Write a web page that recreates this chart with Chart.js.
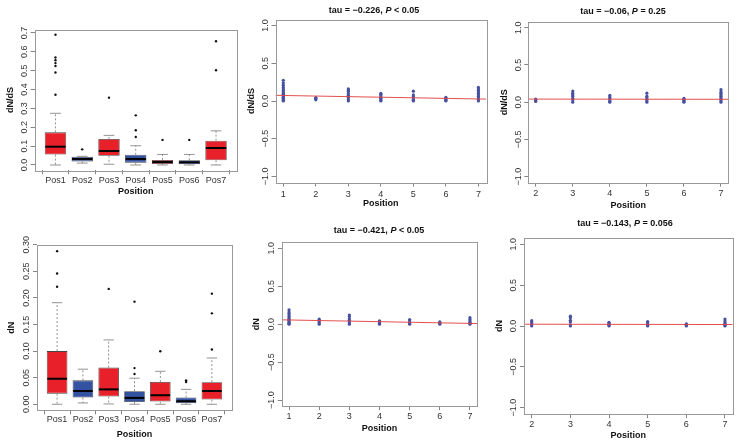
<!DOCTYPE html>
<html><head><meta charset="utf-8">
<script src="https://cdn.jsdelivr.net/npm/chart.js@4"></script>
<style>
html,body{margin:0;padding:0;background:#fff;}
#wrap{position:relative;width:740px;height:446px;overflow:hidden;}
canvas.c{position:absolute;left:0;top:0;}
.ttl{position:absolute;font:bold 9px "Liberation Sans",Arial,sans-serif;white-space:nowrap;transform:translate(-50%,-50%);color:#111;}
</style></head><body>
<div id="wrap">
<canvas id="c1" class="c" width="740" height="446"></canvas>
<canvas id="c2" class="c" width="740" height="446"></canvas>
<canvas id="c3" class="c" width="740" height="446"></canvas>
<canvas id="c4" class="c" width="740" height="446"></canvas>
<canvas id="c5" class="c" width="740" height="446"></canvas>
<canvas id="c6" class="c" width="740" height="446"></canvas>
<div class="ttl" style="left:374px;top:10px">tau = −0.226, <i>P</i> &lt; 0.05</div>
<div class="ttl" style="left:623px;top:11px">tau = −0.06, <i>P</i> = 0.25</div>
<div class="ttl" style="left:379px;top:230px">tau = −0.421, <i>P</i> &lt; 0.05</div>
<div class="ttl" style="left:625px;top:223px">tau = −0.143, <i>P</i> = 0.056</div>
</div>
<script>
// ---------------- DATA ----------------
const posNames = ['Pos1','Pos2','Pos3','Pos4','Pos5','Pos6','Pos7'];
const boxPositions = [1,2,3,4,5,6,7];

// dN/dS boxplot (top-left)
const dndsLow  = [0, 0.010, 0.004, 0, 0, 0, 0];
const dndsQ1   = [0.055, 0.019, 0.049, 0.0125, 0.005, 0.004, 0.025];
const dndsMed  = [0.097, 0.032, 0.074, 0.032, 0.016, 0.014, 0.090];
const dndsQ3   = [0.173, 0.044, 0.138, 0.054, 0.027, 0.025, 0.129];
const dndsHigh = [0.274, 0.046, 0.157, 0.102, 0.056, 0.056, 0.181];
const dndsOut  = [[0.69,0.57,0.555,0.54,0.525,0.49,0.372],[0.083],[0.357],[0.148,0.184,0.263],[0.133],[0.133],[0.502,0.656]];

// dN boxplot (bottom-left)
const dnLow  = [0, 0.0025, 0.0006, 0, 0, 0, 0];
const dnQ1   = [0.020, 0.0126, 0.0145, 0.0044, 0.005, 0.002, 0.0088];
const dnMed  = [0.048, 0.025, 0.028, 0.012, 0.017, 0.0057, 0.025];
const dnQ3   = [0.100, 0.045, 0.069, 0.0246, 0.042, 0.0126, 0.0416];
const dnHigh = [0.191, 0.066, 0.121, 0.049, 0.062, 0.028, 0.087];
const dnOut  = [[0.221,0.246,0.288],[],[0.217],[0.057,0.068,0.193],[0.0996],[0.042,0.045],[0.103,0.171,0.208]];

// scatter panels
const allPositions = [1,2,3,4,5,6,7];
const subPositions = [2,3,4,5,6,7];
const dndsAllValues = [
  [0,0.01,0.02,0.035,0.05,0.06,0.075,0.09,0.1,0.12,0.14,0.16,0.18,0.21,0.24,0.275],
  [0.015,0.025,0.035,0.045],
  [0,0.02,0.045,0.06,0.075,0.1,0.13,0.145,0.16],
  [0,0.01,0.025,0.035,0.05,0.07,0.09,0.1],
  [0,0.01,0.02,0.04,0.055,0.08,0.13],
  [0,0.01,0.02,0.035,0.05],
  [0,0.02,0.04,0.06,0.08,0.1,0.12,0.14,0.16,0.18]
];
const dndsSubValues = [
  [0.01,0.02,0.04],
  [0,0.03,0.05,0.08,0.1,0.12,0.15],
  [0,0.01,0.03,0.05,0.07,0.09],
  [0,0.02,0.04,0.06,0.08,0.12],
  [0,0.01,0.025,0.04,0.05],
  [0,0.02,0.04,0.06,0.08,0.1,0.12,0.14,0.17]
];
const dnAllValues = [
  [0,0.01,0.02,0.035,0.05,0.065,0.08,0.1,0.12,0.14,0.16,0.19],
  [0,0.015,0.03,0.045,0.065],
  [0,0.015,0.03,0.05,0.07,0.1,0.12],
  [0,0.01,0.02,0.035,0.045],
  [0,0.01,0.02,0.04,0.06],
  [0,0.01,0.02,0.03],
  [0,0.01,0.025,0.04,0.06,0.085]
];
const dnSubValues = [
  [0,0.015,0.03,0.05,0.065],
  [0,0.015,0.05,0.07,0.1,0.12],
  [0,0.01,0.02,0.035,0.045],
  [0,0.01,0.025,0.04,0.055],
  [0,0.01,0.02,0.025],
  [0,0.01,0.025,0.04,0.06,0.085]
];
// regression lines [intercept, slope]
const fitDndsAll = [0.0809, -0.0077];
const fitDndsSub = [0.042, -0.0005];
const fitDnAll   = [0.0627, -0.00756];
const fitDnSub   = [0.0233, -0.00074];

// tick labels
const dndsTicks = [0,0.1,0.2,0.3,0.4,0.5,0.6,0.7];
const dnTicks = [0,0.05,0.10,0.15,0.20,0.25,0.30];
const scatYTicks = [-1,-0.5,0,0.5,1];
const scatYLabels = ['−1.0','−0.5','0.0','0.5','1.0'];

// ---------------- STYLE / LAYOUT ----------------
const FONT = '"Liberation Sans", Arial, sans-serif';
Chart.defaults.font.family = FONT;
Chart.defaults.color = '#222';
const LH = 10.8;
const RED = 'rgb(232,32,42)', BLUE = 'rgb(52,82,162)';
const boxColors = boxPositions.map((p,i)=> i%2===0 ? RED : BLUE);
const extras = {};

const geoms = {
  c1:{L:34.6,T:29.6,R:236.9,B:170.2,ytc:11,xlc:181,xtc:192},
  c2:{L:37,T:245,R:232,B:410.4,ytc:12,xlc:419,xtc:435},
  c3:{L:275.5,T:19.5,R:486.2,B:182.5,ytc:252,xlc:194.3,xtc:204},
  c4:{L:528.3,T:21.7,R:728.4,B:182.6,ytc:505,xlc:193.3,xtc:206},
  c5:{L:281.8,T:242.2,R:477.2,B:406.1,ytc:257,xlc:416.7,xtc:428.3},
  c6:{L:524,T:237.8,R:732.7,B:414.2,ytc:500,xlc:425,xtc:435.7}
};

function rpad(a,b){ const d=(b-a)*0.04; return [a-d,b+d]; }

function baseOptions(id, xr, xticks, xlabels, xtitle, yr, yticks, ytitle){
  const g = geoms[id];
  return {
    responsive:false, animation:false, devicePixelRatio:1,
    layout:{padding:{left:g.ytc-LH/2, top:g.T, right:740-g.R, bottom:446-(g.xtc+LH/2)}},
    plugins:{legend:{display:false}, tooltip:{enabled:false}},
    scales:{
      x:{type:'linear', min:xr[0], max:xr[1], bounds:'data', offset:false,
        afterBuildTicks:s=>{ s.ticks = xticks.map(v=>({value:v})); },
        afterFit:s=>{ s.height = g.xtc + LH/2 - g.B; },
        ticks:{autoSkip:false, maxRotation:0, minRotation:0, padding:Math.max(0,g.xlc-g.B-9.4),
          font:{size:9}, color:'#333', callback:(v,i)=>xlabels[i]},
        grid:{drawOnChartArea:false, drawTicks:true, tickLength:4, color:'#666', lineWidth:0.8},
        border:{display:false},
        title:{display:true, text:xtitle, font:{size:9, weight:'bold'}, padding:0, color:'#111'}
      },
      y:{type:'linear', min:yr[0], max:yr[1], bounds:'data',
        afterBuildTicks:s=>{ s.ticks = yticks.map(v=>({value:v})); },
        afterFit:s=>{ s.width = g.L - (g.ytc - LH/2); },
        ticks:{display:false},
        grid:{drawOnChartArea:false, drawTicks:true, tickLength:4, color:'#666', lineWidth:0.8},
        border:{display:false},
        title:{display:true, text:ytitle, font:{size:9, weight:'bold'}, padding:0, color:'#111'}
      }
    }
  };
}

function line(ctx,x1,y1,x2,y2){ ctx.beginPath(); ctx.moveTo(x1,y1); ctx.lineTo(x2,y2); ctx.stroke(); }

const rPlugin = {
  id:'rStyle',
  afterDatasetsDraw(chart){
    const e = extras[chart.canvas.id]; if(!e || !e.box) return;
    const ctx = chart.ctx, xs = chart.scales.x, ys = chart.scales.y;
    const meta = chart.getDatasetMeta(0);
    const b = e.box;
    ctx.save();
    b.pos.forEach((p,i)=>{
      const el = meta.data[i];
      const half = el.getProps(['width'],true).width/2;
      const x = xs.getPixelForValue(p);
      const yl = ys.getPixelForValue(b.low[i]), y1 = ys.getPixelForValue(b.q1[i]);
      const ym = ys.getPixelForValue(b.med[i]), y3 = ys.getPixelForValue(b.q3[i]);
      const yh = ys.getPixelForValue(b.high[i]);
      ctx.strokeStyle='#777'; ctx.lineWidth=0.8; ctx.setLineDash([2,2]);
      line(ctx,x,y3,x,yh); line(ctx,x,y1,x,yl);
      ctx.setLineDash([]);
      line(ctx,x-half/2,yh,x+half/2,yh); line(ctx,x-half/2,yl,x+half/2,yl);
      ctx.strokeStyle='#000'; ctx.lineWidth=2;
      line(ctx,x-half+0.5,ym,x+half-0.5,ym);
    });
    ctx.restore();
  },
  afterDraw(chart){
    const e = extras[chart.canvas.id]; if(!e) return;
    const ctx = chart.ctx, ys = chart.scales.y, a = chart.chartArea;
    ctx.save();
    ctx.strokeStyle='#999'; ctx.lineWidth=1;
    ctx.strokeRect(Math.round(a.left)+0.5, Math.round(a.top)+0.5, Math.round(a.right-a.left), Math.round(a.bottom-a.top));
    ctx.font='9px '+FONT; ctx.fillStyle='#333'; ctx.textAlign='center'; ctx.textBaseline='middle';
    e.yticks.forEach((v,i)=>{
      ctx.save(); ctx.translate(a.left-10, ys.getPixelForValue(v)); ctx.rotate(-Math.PI/2);
      ctx.fillText(e.ylabels[i],0,0); ctx.restore();
    });
    ctx.restore();
  }
};
Chart.register(rPlugin);

function boxChart(id, low, q1, med, q3, high, outs, yticks, ylabels, ytitle){
  const allVals = high.concat(...outs, low);
  const yr = rpad(Math.min(...allVals), Math.max(...allVals));
  extras[id] = {yticks, ylabels, box:{pos:boxPositions, low, q1, med, q3, high}};
  const opts = baseOptions(id, rpad(0.5, boxPositions.length+0.5), boxPositions, posNames, 'Position', yr, yticks, ytitle);
  new Chart(document.getElementById(id), {
    type:'bar',
    data:{datasets:[
      {type:'bar', data:boxPositions.map((p,i)=>({x:p, y:[q1[i], q3[i]]})),
        backgroundColor:boxColors, borderColor:'#444', borderWidth:0.8, borderSkipped:false,
        barPercentage:0.8, categoryPercentage:1},
      {type:'scatter', data:boxPositions.flatMap((p,i)=>outs[i].map(v=>({x:p,y:v}))),
        pointRadius:1.2, pointBackgroundColor:'#111', pointBorderWidth:0}
    ]},
    options:opts
  });
}

function scatChart(id, positions, values, fit, ytitle){
  const xr = rpad(positions[0], positions[positions.length-1]);
  extras[id] = {yticks:scatYTicks, ylabels:scatYLabels};
  const opts = baseOptions(id, xr, positions, positions.map(String), 'Position', rpad(-1,1), scatYTicks, ytitle);
  new Chart(document.getElementById(id), {
    type:'scatter',
    data:{datasets:[
      {type:'line', data:xr.map(x=>({x, y:fit[0]+fit[1]*x})), borderColor:'rgba(228,70,70,0.95)',
        borderWidth:1, pointRadius:0, fill:false},
      {type:'scatter', data:positions.flatMap((p,i)=>values[i].map(v=>({x:p,y:v}))),
        pointRadius:1.6, pointBackgroundColor:'#4650a0', pointBorderWidth:0}
    ]},
    options:opts
  });
}

boxChart('c1', dndsLow, dndsQ1, dndsMed, dndsQ3, dndsHigh, dndsOut, dndsTicks, dndsTicks.map(v=>v.toFixed(1)), 'dN/dS');
boxChart('c2', dnLow, dnQ1, dnMed, dnQ3, dnHigh, dnOut, dnTicks, dnTicks.map(v=>v.toFixed(2)), 'dN');
scatChart('c3', allPositions, dndsAllValues, fitDndsAll, 'dN/dS');
scatChart('c4', subPositions, dndsSubValues, fitDndsSub, 'dN/dS');
scatChart('c5', allPositions, dnAllValues, fitDnAll, 'dN');
scatChart('c6', subPositions, dnSubValues, fitDnSub, 'dN');
</script>
</body></html>
